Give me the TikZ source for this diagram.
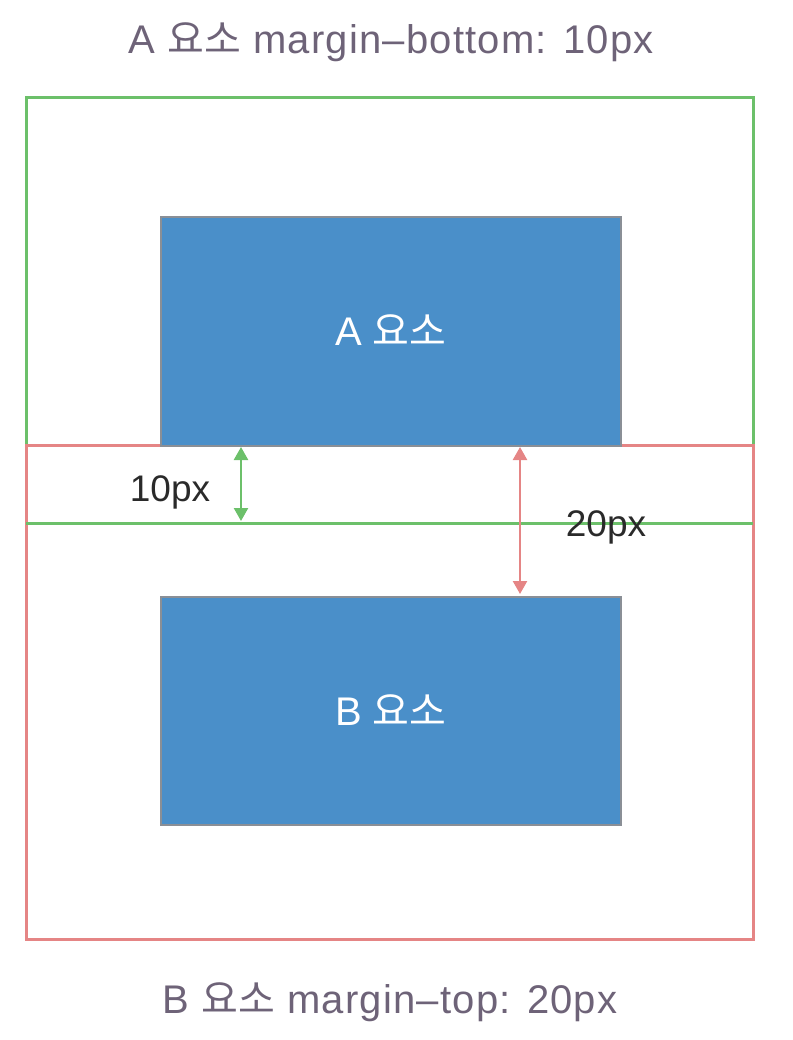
\documentclass[tikz,border=0pt]{standalone}
\usepackage{fontspec}
\setmainfont{Liberation Sans}
\newfontfamily\kr{Noto Sans CJK KR}
\usetikzlibrary{arrows.meta}
\definecolor{gline}{HTML}{6CC06A}
\definecolor{rline}{HTML}{E58585}
\definecolor{bfill}{HTML}{4A8FC9}
\definecolor{bedge}{HTML}{8A8F96}
\definecolor{ttext}{HTML}{6E6378}
\definecolor{ltext}{HTML}{2A2A2A}
\tikzset{
  marginbox/.style={line width=3pt},
  elembox/.style={fill=bfill, draw=bedge, line width=1.6pt},
  elemlabel/.style={text=white, font=\fontsize{40}{46}\selectfont},
  title/.style={text=ttext, font=\fontsize{40}{46}\selectfont\addfontfeature{LetterSpace=3}},
  dimlabel/.style={text=ltext, font=\fontsize{37}{42}\selectfont},
  dimarrow/.style={line width=2.4pt, {Triangle[length=13pt,width=14pt]}-{Triangle[length=13pt,width=14pt]}}
}
\begin{document}
\begin{tikzpicture}[x=1pt,y=-1pt]
\useasboundingbox (0,0) rectangle (792,1040);
\draw[marginbox, draw=gline] (26,98) rectangle (753,523);
\draw[marginbox, draw=rline] (26,445) rectangle (753,939);
\draw[marginbox, draw=gline] (26,523) -- (753,523);
\node[elembox, minimum width=460pt, minimum height=229pt, anchor=north west] (A) at (160,216) {};
\node[elembox, minimum width=460pt, minimum height=228pt, anchor=north west] (B) at (160,596) {};
\node[elemlabel] at ([yshift=1pt]A.center) {A {\kr 요소}};
\node[elemlabel] at ([yshift=1pt]B.center) {B {\kr 요소}};
\coordinate (g1) at (241,447);
\coordinate (g2) at (241,521);
\draw[dimarrow, draw=gline, fill=gline] (g1) -- (g2);
\coordinate (r1) at (520,447);
\coordinate (r2) at (520,594);
\draw[dimarrow, draw=rline, fill=rline] (r1) -- (r2);
\node[dimlabel] (l10) at (170,492) {10px};
\node[dimlabel] (l20) at (606,527) {20px};
\node[title] (t1) at (391,42) {A {\kr 요소} margin–bottom: 10px};
\node[title] (t2) at (390,1002) {B {\kr 요소} margin–top: 20px};
\end{tikzpicture}
\end{document}
